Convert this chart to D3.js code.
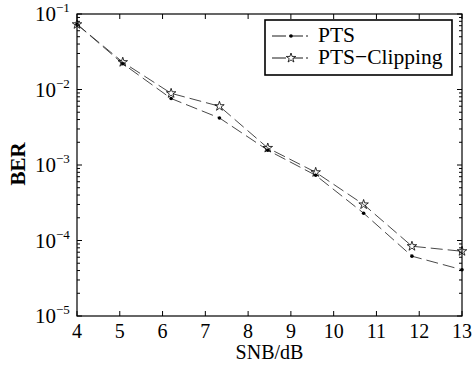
<!DOCTYPE html>
<html>
<head>
<meta charset="utf-8">
<style>
  body { margin: 0; background: #fff; }
  text { font-family: "Liberation Serif", "DejaVu Serif", serif; }
</style>
</head>
<body>
<script src="https://d3js.org/d3.v7.min.js"></script>
<script>
var snr = [4, 5.07, 6.2, 7.33, 8.46, 9.58, 10.7, 11.83, 13];
var pts = [7.3e-2, 2.2e-2, 7.6e-3, 4.2e-3, 1.57e-3, 7.3e-4, 2.3e-4, 6.2e-5, 4.1e-5];
var ptsClip = [7.3e-2, 2.3e-2, 8.9e-3, 6.0e-3, 1.68e-3, 8.0e-4, 3.0e-4, 8.4e-5, 7.2e-5];
var xTicks = [4, 5, 6, 7, 8, 9, 10, 11, 12, 13];
var yTicks = [1e-5, 1e-4, 1e-3, 1e-2, 1e-1];

var w = 473, h = 365;
var m = {left: 77, right: 11, top: 14, bottom: 49};

var svg = d3.select('body').append('svg')
  .attr('width', w).attr('height', h);

var x = d3.scaleLinear().domain([4, 13]).range([m.left, w - m.right]);
var y = d3.scaleLog().domain([1e-5, 1e-1]).range([h - m.bottom, m.top]);

var minor = [];
for (var e = -5; e < -1; e++) {
  for (var k = 2; k <= 9; k++) minor.push(k * Math.pow(10, e));
}

var g = svg.append('g');

// frame
g.append('rect')
  .attr('x', x(4)).attr('y', y(1e-1))
  .attr('width', x(13) - x(4)).attr('height', y(1e-5) - y(1e-1))
  .attr('fill', 'none').attr('stroke', '#000').attr('stroke-width', 1.2);

// x ticks (inward, bottom and top)
xTicks.forEach(function(t) {
  g.append('line').attr('x1', x(t)).attr('x2', x(t))
    .attr('y1', y(1e-5)).attr('y2', y(1e-5) - 5).attr('stroke', '#000');
  g.append('line').attr('x1', x(t)).attr('x2', x(t))
    .attr('y1', y(1e-1)).attr('y2', y(1e-1) + 5).attr('stroke', '#000');
  g.append('text').attr('x', x(t)).attr('y', y(1e-5) + 22)
    .attr('text-anchor', 'middle').attr('font-size', 20).text(t);
});

// y ticks
yTicks.forEach(function(t) {
  [x(4), x(13)].forEach(function(px, i) {
    var d = i === 0 ? 5 : -5;
    g.append('line').attr('x1', px).attr('x2', px + d)
      .attr('y1', y(t)).attr('y2', y(t)).attr('stroke', '#000');
  });
  var lab = g.append('text').attr('x', 35).attr('y', y(t) + 7)
    .attr('font-size', 21);
  lab.append('tspan').text('10');
  lab.append('tspan').attr('dy', -9).attr('font-size', 13).text('\u2212' + Math.round(-Math.log10(t)));
});
minor.forEach(function(t) {
  [x(4), x(13)].forEach(function(px, i) {
    var d = i === 0 ? 3 : -3;
    g.append('line').attr('x1', px).attr('x2', px + d)
      .attr('y1', y(t)).attr('y2', y(t)).attr('stroke', '#000');
  });
});

// axis titles
svg.append('text').attr('x', x(8.5)).attr('y', h - 6)
  .attr('text-anchor', 'middle').attr('font-size', 20).text('SNB/dB');
svg.append('text')
  .attr('transform', 'translate(25,' + 164 + ') rotate(-90)')
  .attr('text-anchor', 'middle').attr('font-size', 21).attr('font-weight', 'bold').text('BER');

var line = d3.line().x(function(d) { return x(d[0]); }).y(function(d) { return y(d[1]); });

var star = d3.symbol().type(d3.symbolStar).size(28);

function drawSeries(vals, marker) {
  var data = snr.map(function(s, i) { return [s, vals[i]]; });
  g.append('path').datum(data).attr('d', line)
    .attr('fill', 'none').attr('stroke', '#333').attr('stroke-width', 0.9)
    .attr('stroke-dasharray', '12,5');
  data.forEach(function(d) {
    if (marker === 'dot') {
      g.append('circle').attr('cx', x(d[0])).attr('cy', y(d[1])).attr('r', 1.8).attr('fill', '#000');
    } else {
      g.append('path').attr('d', star).attr('transform', 'translate(' + x(d[0]) + ',' + y(d[1]) + ')')
        .attr('fill', 'none').attr('stroke', '#000').attr('stroke-width', 0.8);
    }
  });
}
drawSeries(pts, 'dot');
drawSeries(ptsClip, 'star');

// legend
var lg = svg.append('g');
lg.append('rect').attr('x', 265).attr('y', 20).attr('width', 187).attr('height', 55)
  .attr('fill', '#fff').attr('stroke', '#000').attr('stroke-width', 1.6);
[['PTS', 'dot', 36], ['PTS\u2212Clipping', 'star', 58]].forEach(function(r) {
  lg.append('line').attr('x1', 272).attr('x2', 308).attr('y1', r[2]).attr('y2', r[2])
    .attr('stroke', '#000').attr('stroke-width', 0.9).attr('stroke-dasharray', '14,3');
  if (r[1] === 'dot') {
    lg.append('circle').attr('cx', 291).attr('cy', r[2]).attr('r', 1.8).attr('fill', '#000');
  } else {
    lg.append('path').attr('d', star).attr('transform', 'translate(291,' + r[2] + ')')
      .attr('fill', '#fff').attr('stroke', '#000').attr('stroke-width', 0.8);
  }
  lg.append('text').attr('x', 318).attr('y', r[2] + 6).attr('font-size', 21.5).text(r[0]);
});
</script>
</body>
</html>
